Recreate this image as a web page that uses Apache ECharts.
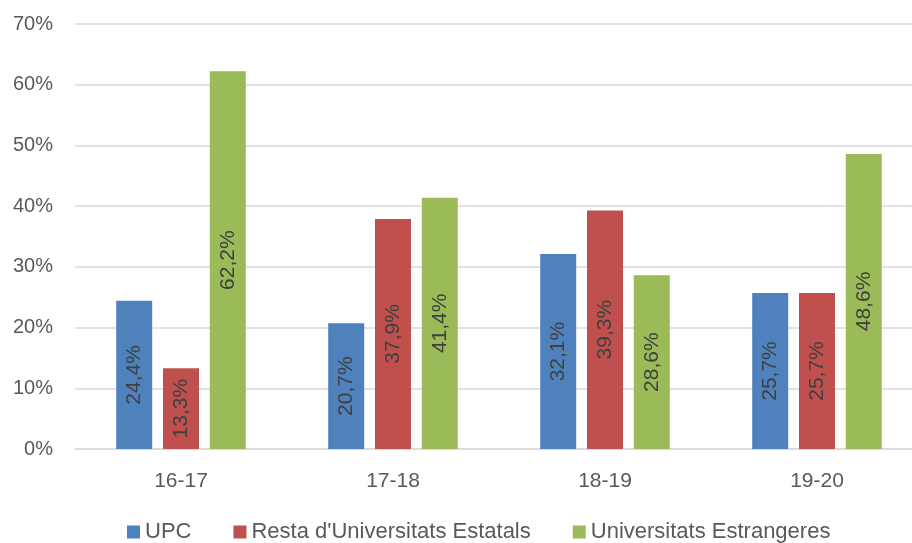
<!DOCTYPE html>
<html>
<head>
<meta charset="utf-8">
<script src="https://cdn.jsdelivr.net/npm/echarts@6/dist/echarts.min.js"></script>
<style>
html,body{margin:0;padding:0;background:#fff;overflow:hidden;width:912px;height:543px;}
#chart{width:923px;height:543px;}
</style>
</head>
<body>
<div id="chart"></div>
<script>
var categories = ['16-17', '17-18', '18-19', '19-20'];
var seriesNames = ['UPC', "Resta d'Universitats Estatals", 'Universitats Estrangeres'];
var upc = [24.4, 20.7, 32.1, 25.7];
var resta = [13.3, 37.9, 39.3, 25.7];
var estrangeres = [62.2, 41.4, 28.6, 48.6];
var yTicks = [0, 10, 20, 30, 40, 50, 60, 70];
var colors = ['#4F81BD', '#C0504D', '#9BBB59'];

var font = 'Liberation Sans, Arial, sans-serif';
function fmt(v) { return String(v.toFixed(1)).replace('.', ',') + '%'; }

function mkSeries(name, data, color) {
  return {
    name: name,
    type: 'bar',
    data: data,
    barWidth: 36,
    barGap: '30%',
    itemStyle: { color: color },
    label: {
      show: true,
      position: 'inside',
      rotate: 90,
      color: '#404040',
      fontFamily: font,
      fontSize: 21,
      formatter: function (p) { return fmt(p.value); }
    }
  };
}

var chart = echarts.init(document.getElementById('chart'), null, { renderer: 'canvas' });
chart.setOption({
  animation: false,
  backgroundColor: '#fff',
  color: colors,
  grid: { left: 75, top: 24, right: 0, bottom: 94, containLabel: false },
  legend: {
    bottom: -5,
    left: 122,
    itemWidth: 13,
    itemHeight: 13,
    itemGap: 42,
    icon: 'rect',
    textStyle: { color: '#595959', fontFamily: font, fontSize: 22 },
    data: seriesNames
  },
  xAxis: {
    type: 'category',
    data: categories,
    axisLine: { lineStyle: { color: '#D9D9D9', width: 1.5 } },
    axisTick: { show: false },
    axisLabel: { color: '#595959', fontFamily: font, fontSize: 21, margin: 22 }
  },
  yAxis: {
    type: 'value',
    min: yTicks[0],
    max: yTicks[yTicks.length - 1],
    interval: 10,
    axisLine: { show: false },
    axisTick: { show: false },
    splitLine: { lineStyle: { color: '#D9D9D9', width: 1.5 } },
    axisLabel: {
      color: '#595959', fontFamily: font, fontSize: 20, margin: 22,
      formatter: function (v) { return v + '%'; }
    }
  },
  series: [
    mkSeries(seriesNames[0], upc, colors[0]),
    mkSeries(seriesNames[1], resta, colors[1]),
    mkSeries(seriesNames[2], estrangeres, colors[2])
  ]
});
</script>
</body>
</html>
